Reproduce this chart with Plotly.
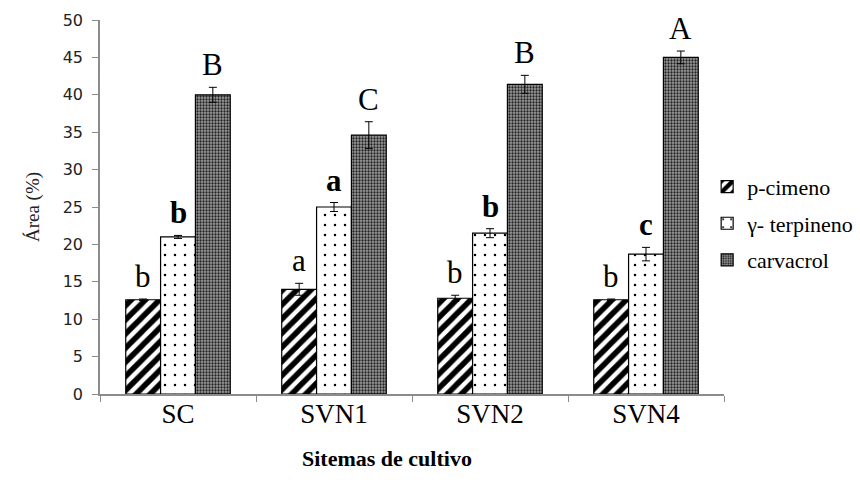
import plotly.graph_objects as go

categories = ["SC", "SVN1", "SVN2", "SVN4"]
series_names = ["p-cimeno", "γ- terpineno", "carvacrol"]

p_cimeno = [12.6, 14.0, 12.8, 12.6]
p_cimeno_err = [0.1, 0.8, 0.4, 0.1]
terpineno = [21.0, 25.0, 21.5, 18.7]
terpineno_err = [0.2, 0.6, 0.6, 0.9]
carvacrol = [40.0, 34.6, 41.4, 45.0]
carvacrol_err = [1.0, 1.8, 1.2, 0.85]

p_letters = ["b", "a", "b", "b"]
t_letters = ["b", "a", "b", "c"]
c_letters = ["B", "C", "B", "A"]

y_ticks = [0, 5, 10, 15, 20, 25, 30, 35, 40, 45, 50]

SERIF = "Times New Roman"
bargap = 0.33
bw = (1 - bargap) / 3
xs = list(range(len(categories)))

fig = go.Figure()

fig.add_trace(go.Bar(
    name=series_names[0], x=xs, y=p_cimeno,
    error_y=dict(type="data", array=p_cimeno_err, color="black", thickness=1, width=4),
    marker=dict(color="white", line=dict(color="black", width=1.2),
                pattern=dict(shape="/", fgcolor="black", bgcolor="white", size=10, solidity=0.55)),
    legendgroup="a",
))
fig.add_trace(go.Bar(
    name=series_names[1], x=xs, y=terpineno,
    error_y=dict(type="data", array=terpineno_err, color="black", thickness=1, width=4),
    marker=dict(color="white", line=dict(color="black", width=1.2),
                pattern=dict(shape=".", fgcolor="black", bgcolor="white", size=10, solidity=0.05)),
    legendgroup="b",
))
fig.add_trace(go.Bar(
    name=series_names[2], x=xs, y=carvacrol,
    error_y=dict(type="data", array=carvacrol_err, color="black", thickness=1, width=4),
    marker=dict(color="#909090", line=dict(color="black", width=1.2),
                pattern=dict(shape=".", fgcolor="#222222", bgcolor="#9c9c9c", size=3, solidity=0.45)),
    legendgroup="c",
))

annotations = []
groups = [(p_cimeno, p_cimeno_err, p_letters, -bw, "normal"),
          (terpineno, terpineno_err, t_letters, 0, "bold"),
          (carvacrol, carvacrol_err, c_letters, bw, "normal")]
for vals, errs, letters, off, weight in groups:
    for i, (v, e, l) in enumerate(zip(vals, errs, letters)):
        txt = f"<b>{l}</b>" if weight == "bold" else l
        annotations.append(dict(
            x=i + off, y=v + e, xref="x", yref="y", text=txt, showarrow=False,
            yanchor="bottom", xanchor="center", yshift=3,
            font=dict(family=SERIF, size=31, color="black"),
        ))

annotations.append(dict(
    x=0.46, y=-0.172, xref="paper", yref="paper", text="<b>Sitemas de cultivo</b>",
    showarrow=False, xanchor="center", yanchor="middle",
    font=dict(family=SERIF, size=22, color="black"),
))

fig.update_layout(
    template="none",
    font=dict(family=SERIF, color="black"),
    width=860, height=483,
    margin=dict(l=100, r=136, t=20, b=89, autoexpand=False),
    paper_bgcolor="white", plot_bgcolor="white",
    barmode="group", bargap=bargap, bargroupgap=0,
    showlegend=True,
    legend=dict(x=0.973, y=0.61, xanchor="left", yanchor="top",
                font=dict(family=SERIF, size=22, color="black"),
                tracegroupgap=5, bgcolor="rgba(0,0,0,0)", itemwidth=30),
    annotations=annotations,
    xaxis=dict(
        range=[-0.5, 3.5], tickmode="array", tickvals=xs, ticktext=categories,
        ticks="", showline=True, linecolor="#8c8c8c", linewidth=1.5,
        showgrid=False, zeroline=False,
        ticklabelstandoff=-5,
        tickfont=dict(family=SERIF, size=27, color="black"),
        minor=dict(ticks="outside", tickmode="linear", tick0=-0.5, dtick=1,
                   ticklen=6, tickcolor="#8c8c8c", tickwidth=1, showgrid=False),
    ),
    yaxis=dict(
        range=[0, 50], tickmode="array", tickvals=y_ticks,
        ticks="outside", ticklen=6, tickcolor="#8c8c8c", tickwidth=1,
        showline=True, linecolor="#8c8c8c", linewidth=1.5,
        showgrid=False, zeroline=False,
        ticklabelstandoff=6,
        tickfont=dict(family="DejaVu Sans", size=16, color="#222"),
        title=dict(text="Área (%)", standoff=18,
                   font=dict(family=SERIF, size=19, color="#222")),
    ),
)

fig.write_html("out.html")
